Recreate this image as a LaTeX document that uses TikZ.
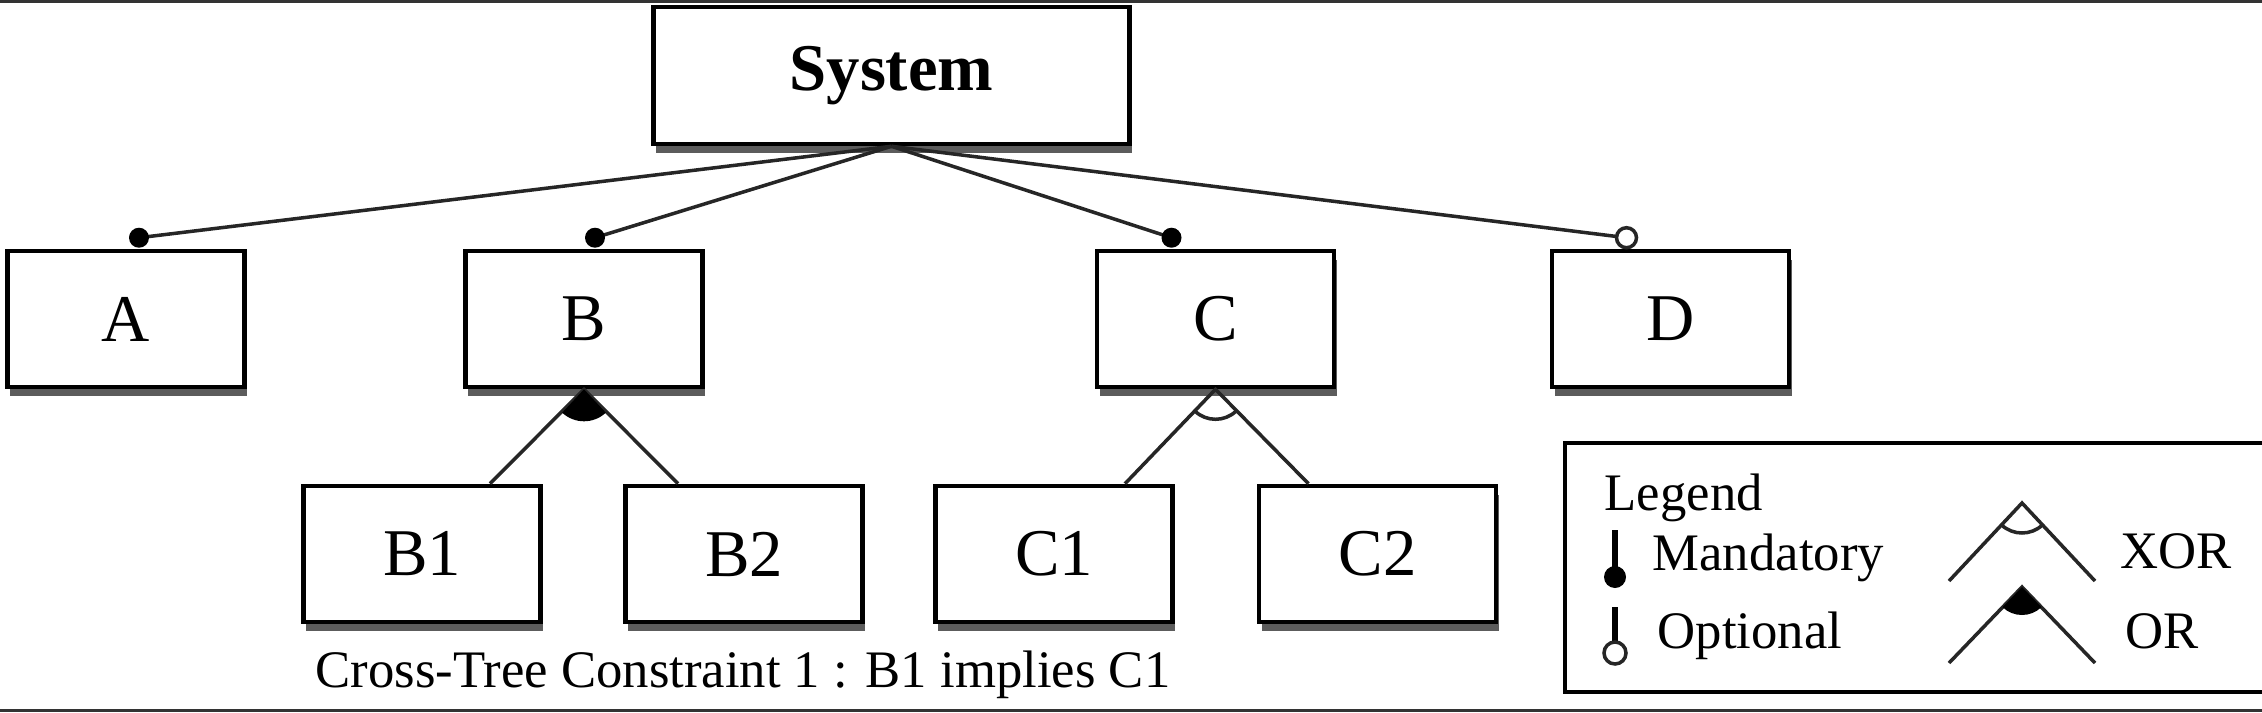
\documentclass[tikz,border=0pt]{standalone}
\usepackage{fontspec}
\setmainfont{Liberation Serif}
\usetikzlibrary{shadows}

\tikzset{
  feat/.style={draw, line width=1.3pt, fill=white, minimum width=2.37cm, minimum height=1.36cm,
    font=\fontsize{19}{23}\selectfont,
    drop shadow={shadow xshift=0.025cm, shadow yshift=-0.085cm, opacity=0.75, fill=black!85}},
  edge/.style={line width=1pt, black!85},
  stem/.style={line width=0.06cm},
  leg/.style={font=\fontsize{15}{18}\selectfont, inner sep=0pt},
}

\begin{document}
\begin{tikzpicture}
		\useasboundingbox (0,0) rectangle (22.62,7.12);
		\fill[black!80] (0,7.09) rectangle (22.62,7.12);
		\fill[black!80] (0,0) rectangle (22.62,0.035);

		\draw (8.915,6.365) node[feat, minimum width=4.76cm, minimum height=1.37cm, font=\fontsize{19}{23}\selectfont\bfseries] (Sys) {System} ;
		\draw (1.26,3.93) node[feat] (A) {A} ;
		\draw (5.84,3.93) node[feat] (B) {B} ;
		\draw (12.155,3.93) node[feat] (C) {C} ;
		\draw (16.705,3.93) node[feat] (D) {D} ;
		\draw (4.22,1.58) node[feat] (B1) {B1} ;
		\draw (7.44,1.58) node[feat] (B2) {B2} ;
		\draw (10.54,1.58) node[feat] (C1) {C1} ;
		\draw (13.775,1.58) node[feat] (C2) {C2} ;
		\draw (7.43,0.25) node[leg, anchor=base] (ctc) {Cross-Tree Constraint 1 : B1 implies C1} ;

		\coordinate (dA) at ([xshift=0.13cm,yshift=0.11cm]A.north) ;
		\coordinate (dB) at ([xshift=0.11cm,yshift=0.11cm]B.north) ;
		\coordinate (dC) at ([xshift=-0.44cm,yshift=0.11cm]C.north) ;
		\coordinate (dD) at ([xshift=-0.44cm,yshift=0.11cm]D.north) ;
		\draw[edge] (Sys.south) -- (dA) ;
		\draw[edge] (Sys.south) -- (dB) ;
		\draw[edge] (Sys.south) -- (dC) ;
		\draw[edge] (Sys.south) -- (dD) ;
		\fill (dA) circle (0.1) ;
		\fill (dB) circle (0.1) ;
		\fill (dC) circle (0.1) ;
		\draw[edge, fill=white] (dD) circle (0.1) ;

		\draw[edge] ([xshift=0.68cm]B1.north) -- (B.south) -- ([xshift=-0.66cm]B2.north) ;
		\fill (B.south) -- ++(227:0.32) arc[start angle=227, end angle=313, radius=0.32] -- cycle ;
		\draw[edge] ([xshift=0.71cm]C1.north) -- (C.south) -- ([xshift=-0.69cm]C2.north) ;
		\draw[edge] ([shift={(227:0.3)}]C.south) arc[start angle=227, end angle=313, radius=0.3] ;

		% legend
		\draw[line width=1.3pt] (15.65,0.20) rectangle (22.75,2.69) ;
		\draw (16.04,2.02) node[leg, anchor=base west] (lgd) {Legend} ;
		\draw[stem] (16.15,1.82) -- (16.15,1.35) ;
		\fill (16.15,1.35) circle (0.11) ;
		\draw (16.52,1.42) node[leg, anchor=base west] (lmand) {Mandatory} ;
		\draw[stem] (16.15,1.05) -- (16.15,0.70) ;
		\draw[edge, fill=white] (16.15,0.59) circle (0.11) ;
		\draw (16.57,0.64) node[leg, anchor=base west] (lopt) {Optional} ;

		\coordinate (xa) at (20.22,2.09) ;
		\draw[edge] (19.49,1.31) -- (xa) -- (20.95,1.31) ;
		\draw[edge] ([shift={(227:0.3)}]xa) arc[start angle=227, end angle=313, radius=0.3] ;
		\draw (21.20,1.44) node[leg, anchor=base west] (lxor) {XOR} ;
		\coordinate (oa) at (20.22,1.25) ;
		\draw[edge] (19.49,0.49) -- (oa) -- (20.95,0.49) ;
		\fill (oa) -- ++(226:0.28) arc[start angle=226, end angle=314, radius=0.28] -- cycle ;
		\draw (21.25,0.64) node[leg, anchor=base west] (lor) {OR} ;
\end{tikzpicture}
\end{document}
